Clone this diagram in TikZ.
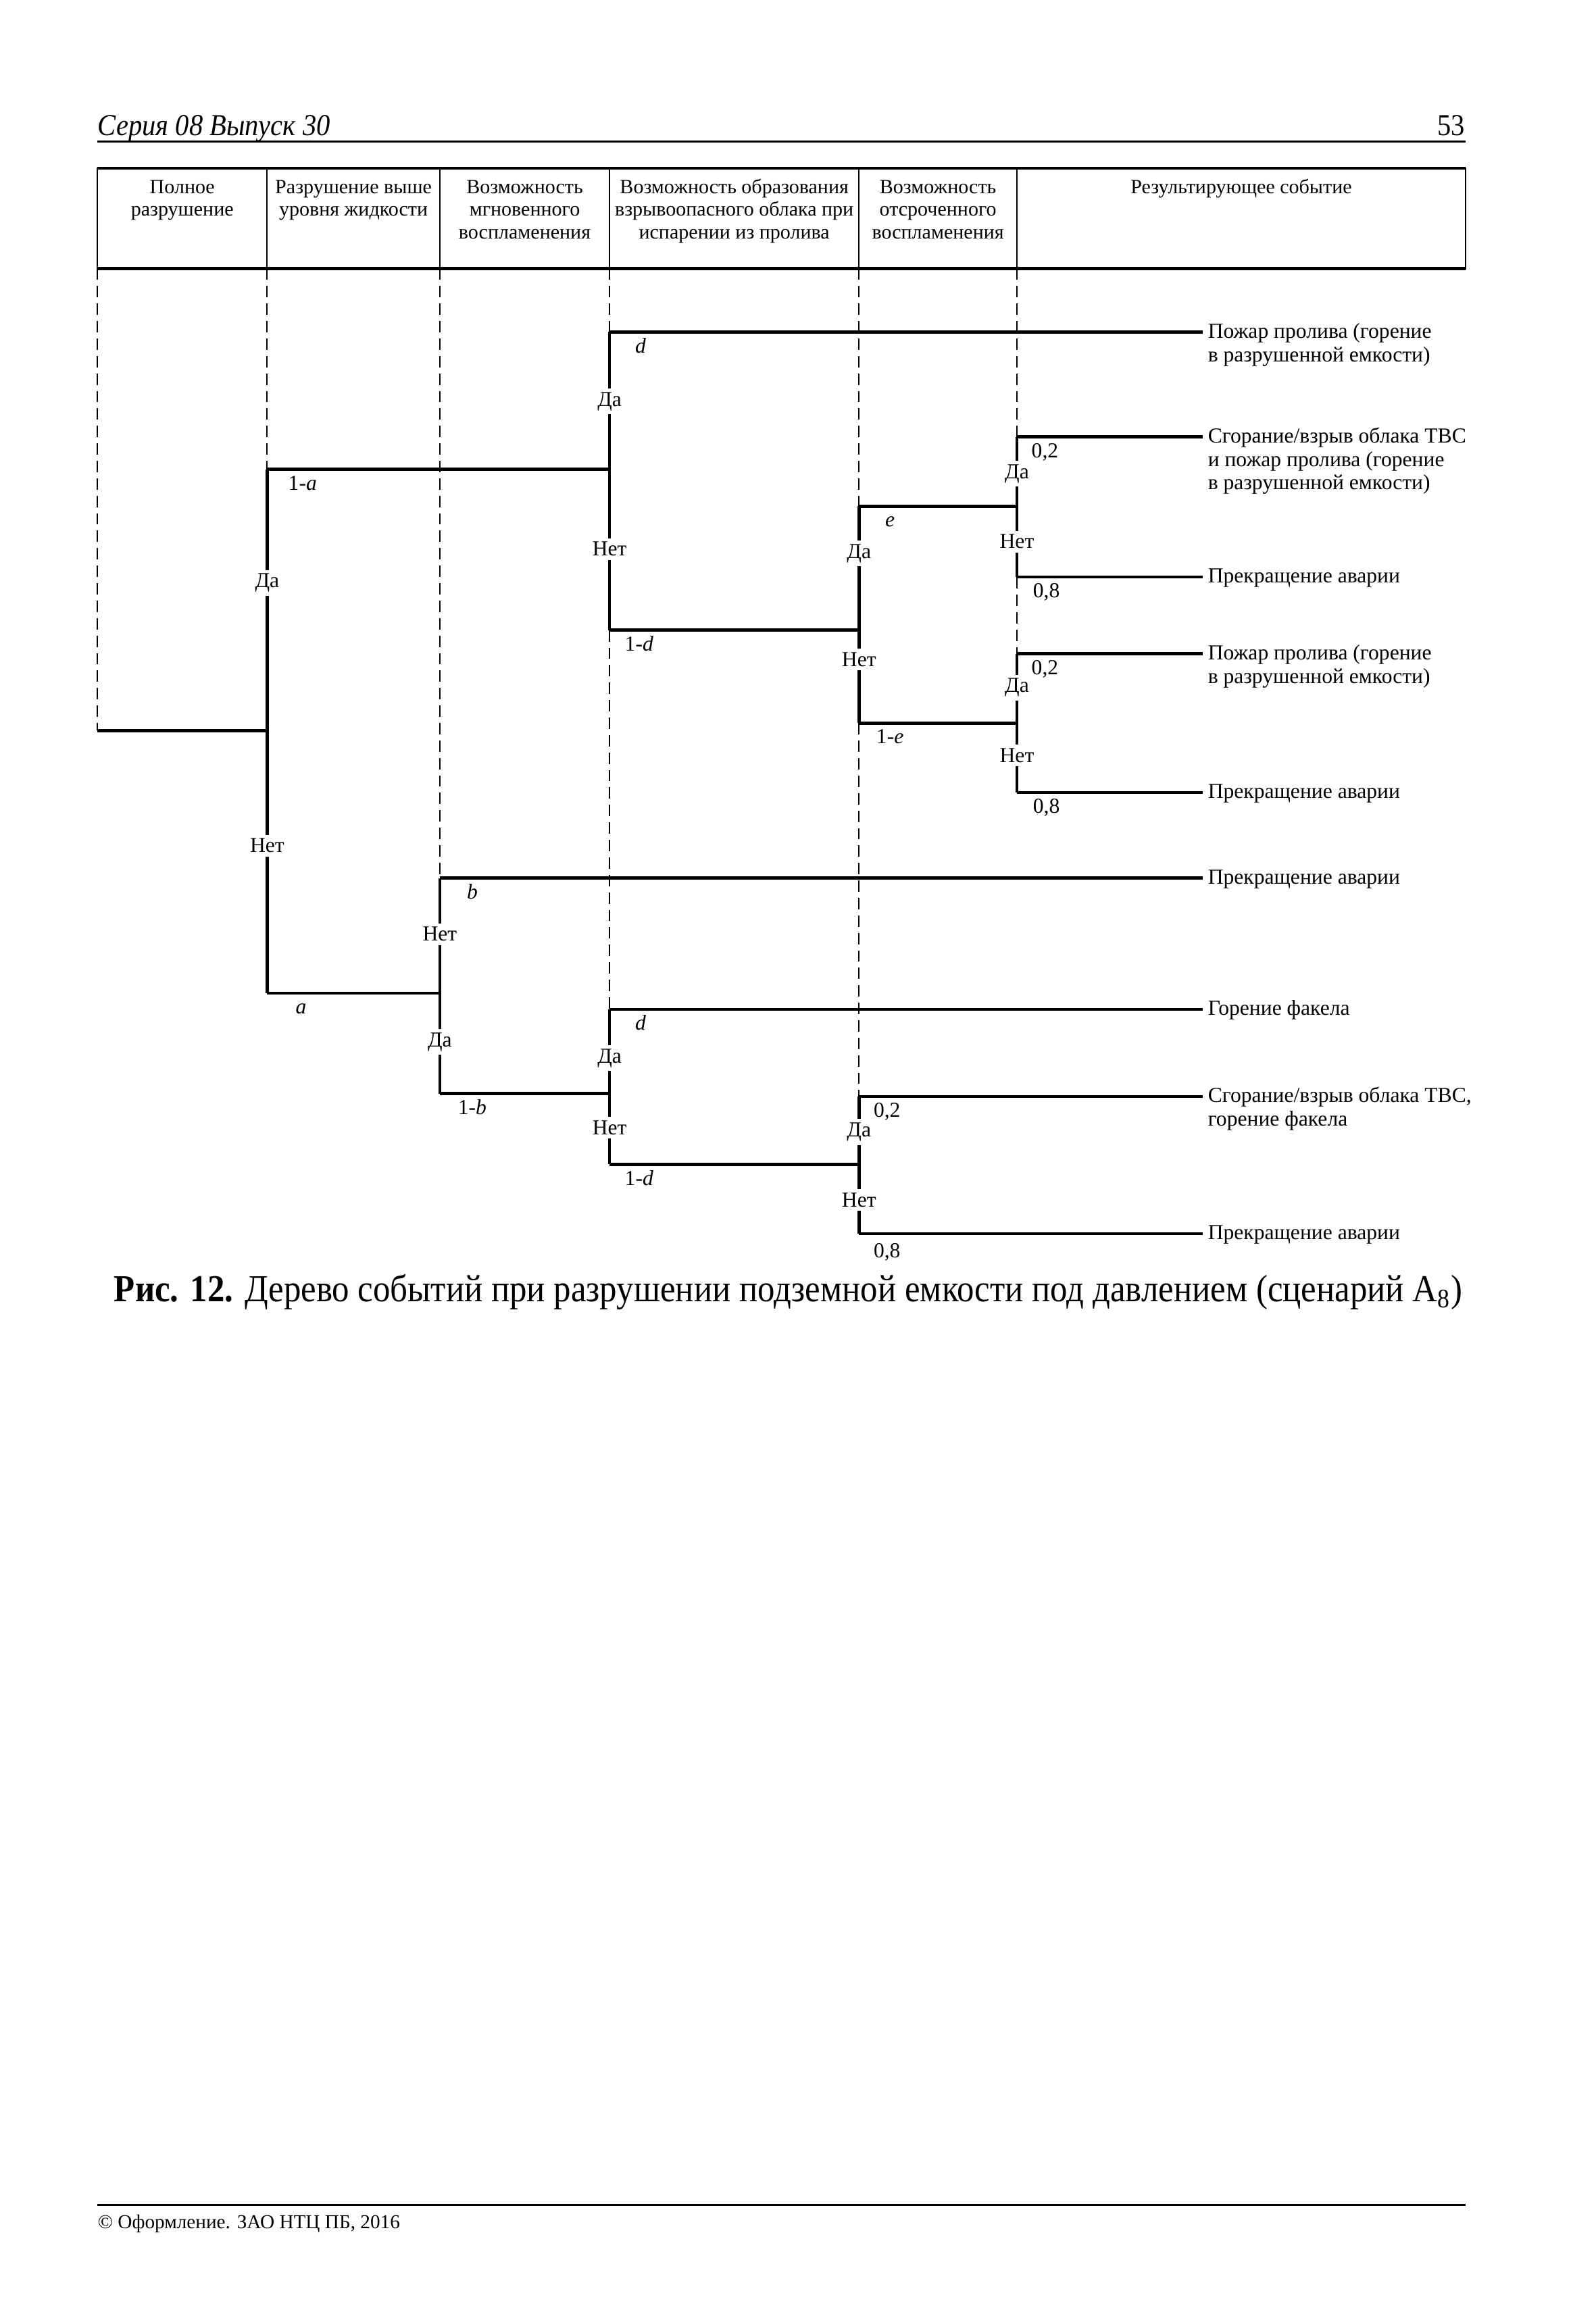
\documentclass[tikz,border=0pt]{standalone}
\usepackage{fontspec}
\setmainfont{Liberation Serif}
\newfontfamily\narrowfont[FakeStretch=0.9]{Liberation Serif}
\usetikzlibrary{positioning}

\newcommand{\cellc}[1]{\begin{tabular}[t]{@{}c@{}}#1\end{tabular}}
\newcommand{\outc}[1]{\begin{tabular}[t]{@{}l@{}}#1\end{tabular}}

\begin{document}
\begin{tikzpicture}[x=0.19426mm, y=-0.19426mm,
  font=\fontsize{8}{8.8}\selectfont,
  br/.style={line width=1.15pt},
  col/.style={line width=0.45pt, dash pattern=on 1.5mm off 0.8mm},
  yn/.style={fill=white, inner xsep=0.4pt, inner ysep=1.4pt},
  pr/.style={anchor=base, inner sep=0.8pt},
  res/.style={anchor=base west, inner xsep=0.6mm, inner ysep=0pt},
  hd/.style={anchor=base, inner sep=0pt, font=\fontsize{7.6}{8.5}\selectfont}
]
\useasboundingbox (0,0) rectangle (1081,1568);

% page header
\node[anchor=base west, inner sep=0pt, font=\fontsize{11.4}{14}\narrowfont\itshape] (ser) at (66,92) {Серия 08 Выпуск 30};
\node[anchor=base east, inner sep=0pt, font=\fontsize{11.4}{14}\narrowfont] (pg) at (993,92) {53};
\draw[line width=0.9pt] (66,96) -- (993,96);

% table head
\draw[line width=0.5pt] (66,114) rectangle (993,182);
\draw[line width=1.2pt] (66,114) -- (993,114);
\draw[line width=1.2pt] (66,182) -- (993,182);
\foreach \x in {181,298,413,582,689}
  \draw[line width=0.5pt] (\x,114) -- (\x,182);
\node[hd] (h1) at (123.5,131) {\cellc{Полное\\разрушение}};
\node[hd] (h2) at (239.5,131) {\cellc{Разрушение выше\\уровня жидкости}};
\node[hd] (h3) at (355.5,131) {\cellc{Возможность\\мгновенного\\воспламенения}};
\node[hd] (h4) at (497.5,131) {\cellc{Возможность образования\\взрывоопасного облака при\\испарении из пролива}};
\node[hd] (h5) at (635.5,131) {\cellc{Возможность\\отсроченного\\воспламенения}};
\node[hd] (h6) at (841,131) {\cellc{Результирующее событие}};

\foreach \x/\ya/\yb in {66/182/495, 181/182/318, 298/182/595, 413/182/225, 413/427/684,
                        582/182/343, 582/490/743, 689/182/296, 689/391/443}
  \draw[col] (\x,\ya) -- (\x,\yb);

% branch points
\coordinate (r0) at (66,495);
\coordinate (A) at (181,495); \coordinate (A-t) at (181,318); \coordinate (A-b) at (181,673);
\coordinate (B) at (413,318); \coordinate (B-t) at (413,225); \coordinate (B-b) at (413,427);
\coordinate (C) at (582,427); \coordinate (C-t) at (582,343); \coordinate (C-b) at (582,490);
\coordinate (D) at (689,343); \coordinate (D-t) at (689,296); \coordinate (D-b) at (689,391);
\coordinate (E) at (689,490); \coordinate (E-t) at (689,443); \coordinate (E-b) at (689,537);
\coordinate (F) at (298,673); \coordinate (F-t) at (298,595); \coordinate (F-b) at (298,741);
\coordinate (G) at (413,741); \coordinate (G-t) at (413,684); \coordinate (G-b) at (413,789);
\coordinate (H) at (582,789); \coordinate (H-t) at (582,743); \coordinate (H-b) at (582,836);

% outcomes
\node[res] (o1) at (815,229) {\outc{Пожар пролива (горение\\в разрушенной емкости)}};
\node[res] (o2) at (815,300) {\outc{Сгорание/взрыв облака ТВС\\и пожар пролива (горение\\в разрушенной емкости)}};
\node[res] (o3) at (815,395) {Прекращение аварии};
\node[res] (o4) at (815,447) {\outc{Пожар пролива (горение\\в разрушенной емкости)}};
\node[res] (o5) at (815,541) {Прекращение аварии};
\node[res] (o6) at (815,599) {Прекращение аварии};
\node[res] (o7) at (815,688) {Горение факела};
\node[res] (o8) at (815,747) {\outc{Сгорание/взрыв облака ТВС,\\горение факела}};
\node[res] (o9) at (815,840) {Прекращение аварии};

\draw[br] (r0) -- (A);
\foreach \n in {A,B,C,D,E,F,G,H}
  \draw[br] (\n-t) -- (\n-b);
\draw[br] (A-t) -- (B);
\draw[br] (B-b) -- (C);
\draw[br] (C-t) -- (D);
\draw[br] (C-b) -- (E);
\draw[br] (A-b) -- (F);
\draw[br] (F-b) -- (G);
\draw[br] (G-b) -- (H);
\draw[br] (B-t) -- (B-t -| o1.west);
\draw[br] (D-t) -- (D-t -| o2.west);
\draw[br] (D-b) -- (D-b -| o3.west);
\draw[br] (E-t) -- (E-t -| o4.west);
\draw[br] (E-b) -- (E-b -| o5.west);
\draw[br] (F-t) -- (F-t -| o6.west);
\draw[br] (G-t) -- (G-t -| o7.west);
\draw[br] (H-t) -- (H-t -| o8.west);
\draw[br] (H-b) -- (H-b -| o9.west);

% yes / no
\node[yn] (Ay) at (181,395) {Да};  \node[yn] (An) at (181,573) {Нет};
\node[yn] (By) at (413,272) {Да};  \node[yn] (Bn) at (413,372) {Нет};
\node[yn] (Cy) at (582,375) {Да};  \node[yn] (Cn) at (582,447) {Нет};
\node[yn] (Dy) at (689,321) {Да};  \node[yn] (Dn) at (689,367) {Нет};
\node[yn] (Ey) at (689,466) {Да};  \node[yn] (En) at (689,512) {Нет};
\node[yn] (Fn) at (298,633) {Нет}; \node[yn] (Fy) at (298,706) {Да};
\node[yn] (Gy) at (413,717) {Да};  \node[yn] (Gn) at (413,764) {Нет};
\node[yn] (Hy) at (582,767) {Да};  \node[yn] (Hn) at (582,813) {Нет};

% probabilities
\node[pr] (pA1) at (205,332) {1-\textit{a}};
\node[pr] (pA2) at (204,687) {\textit{a}};
\node[pr] (pB1) at (434,239) {\textit{d}};
\node[pr] (pB2) at (433,441) {1-\textit{d}};
\node[pr] (pC1) at (603,357) {\textit{e}};
\node[pr] (pC2) at (603,504) {1-\textit{e}};
\node[pr] (pD1) at (708,310) {0,2};
\node[pr] (pD2) at (709,405) {0,8};
\node[pr] (pE1) at (708,457) {0,2};
\node[pr] (pE2) at (709,551) {0,8};
\node[pr] (pF1) at (320,609) {\textit{b}};
\node[pr] (pF2) at (320,755) {1-\textit{b}};
\node[pr] (pG1) at (434,698) {\textit{d}};
\node[pr] (pG2) at (433,803) {1-\textit{d}};
\node[pr] (pH1) at (601,757) {0,2};
\node[pr] (pH2) at (601,852) {0,8};

% caption and footer
\node[anchor=base west, inner sep=0pt, font=\fontsize{14.3}{16}\narrowfont] (cap) at (77,882)
  {\textbf{Рис. 12.} Дерево событий при разрушении подземной емкости под давлением (сценарий А\textsubscript{8})};
\draw[line width=0.9pt] (66,1494) -- (993,1494);
\node[anchor=base west, inner sep=0pt, font=\fontsize{7.4}{9}\selectfont] (ftr) at (66,1510) {© Оформление. ЗАО НТЦ ПБ, 2016};
\end{tikzpicture}
\end{document}
